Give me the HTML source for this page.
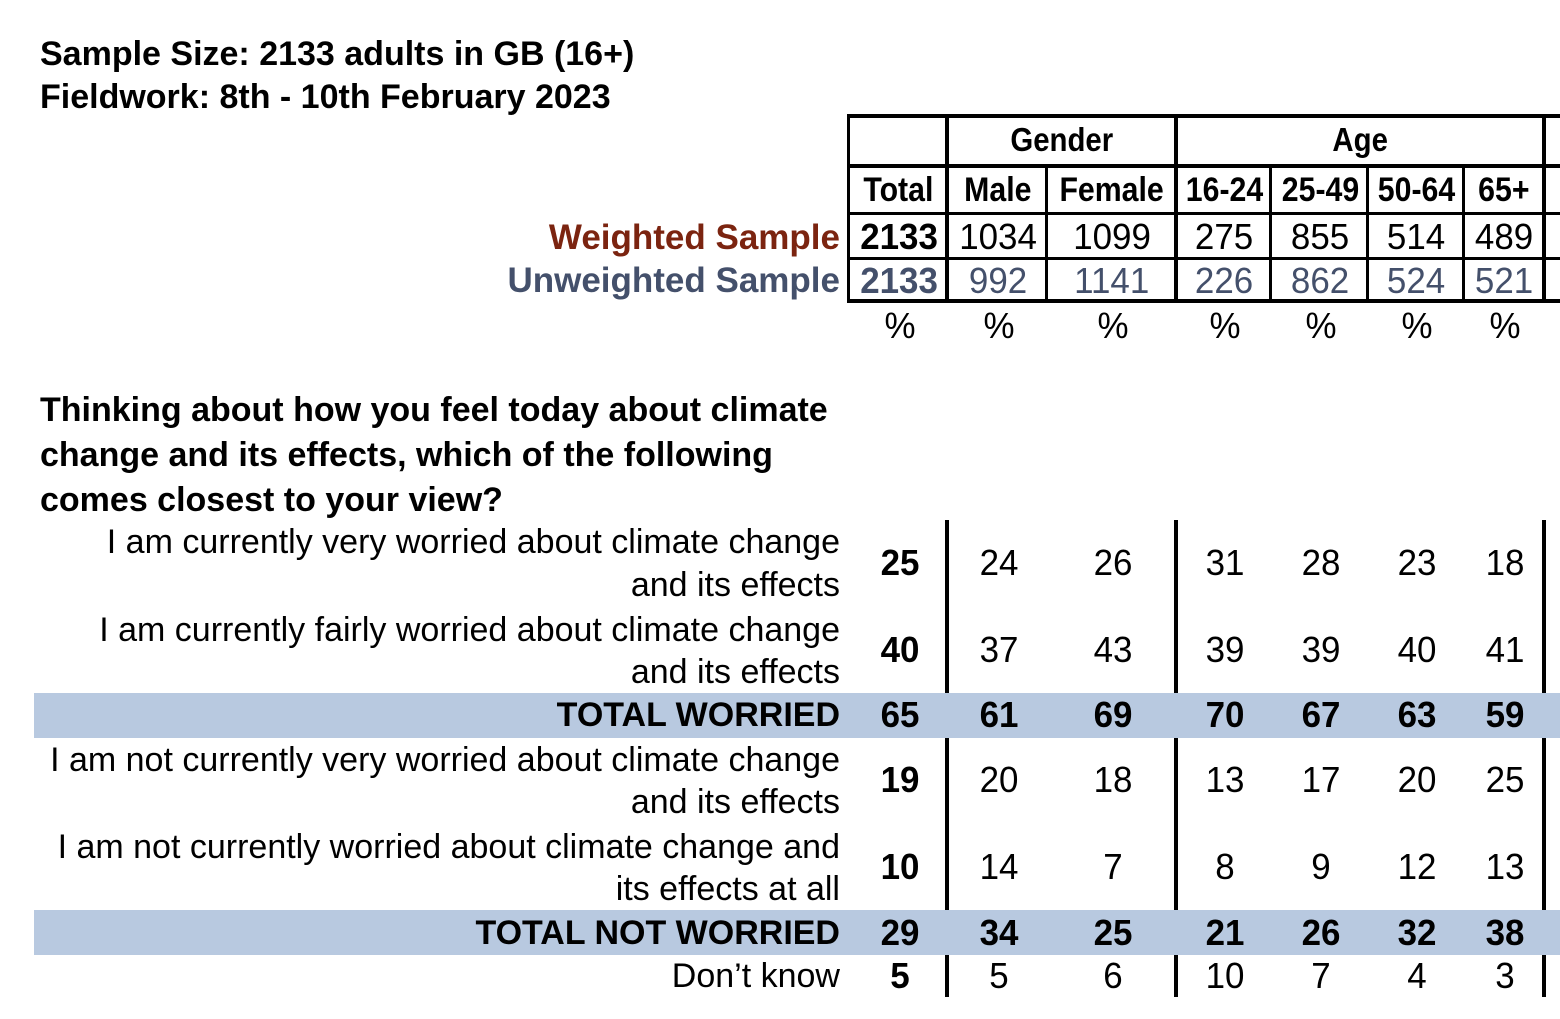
<!DOCTYPE html>
<html><head><meta charset="utf-8"><style>
body{margin:0;width:1560px;height:1019px;background:#fff;position:relative;overflow:hidden;font-family:"Liberation Sans",Arial,sans-serif;color:#000}
.a{position:absolute;white-space:nowrap}
.c{position:absolute;width:140px;text-align:center;white-space:nowrap;line-height:1}
.c span{display:inline-block;transform:scaleX(.97)}
.h span{transform:scaleX(.89)}
.l{position:absolute;right:720px;text-align:right;white-space:nowrap;font-size:34px;line-height:1}
.b{font-weight:bold}
.hl{position:absolute;background:#000}
.band{position:absolute;left:34px;width:1526px;height:45px;background:#b8c9e0}
</style></head><body>
<div class="a b" style="left:40px;top:33px;font-size:34px;line-height:43px">Sample Size: 2133 adults in GB (16+)<br>Fieldwork: 8th - 10th February 2023</div>

<div class="hl" style="left:847px;top:114px;width:713px;height:4px"></div>
<div class="hl" style="left:847px;top:164px;width:713px;height:4px"></div>
<div class="hl" style="left:847px;top:212px;width:713px;height:3px"></div>
<div class="hl" style="left:847px;top:257px;width:713px;height:3px"></div>
<div class="hl" style="left:847px;top:299px;width:713px;height:4px"></div>
<div class="hl" style="left:847px;top:114px;width:3px;height:189px"></div>
<div class="hl" style="left:945px;top:114px;width:4px;height:189px"></div>
<div class="hl" style="left:1045px;top:166px;width:3px;height:137px"></div>
<div class="hl" style="left:1174px;top:114px;width:4px;height:189px"></div>
<div class="hl" style="left:1269px;top:166px;width:3px;height:137px"></div>
<div class="hl" style="left:1366px;top:166px;width:3px;height:137px"></div>
<div class="hl" style="left:1462px;top:166px;width:3px;height:137px"></div>
<div class="hl" style="left:1542px;top:114px;width:4px;height:189px"></div>

<div class="c b h" style="left:992px;top:123px;font-size:33px"><span>Gender</span></div>
<div class="c b h" style="left:1290px;top:123px;font-size:33px"><span>Age</span></div>
<div class="c b h" style="left:828px;top:173px;font-size:34px"><span>Total</span></div>
<div class="c b h" style="left:928px;top:173px;font-size:34px"><span>Male</span></div>
<div class="c b h" style="left:1042px;top:173px;font-size:34px"><span>Female</span></div>
<div class="c b h" style="left:1154px;top:173px;font-size:34px"><span>16-24</span></div>
<div class="c b h" style="left:1250px;top:173px;font-size:34px"><span>25-49</span></div>
<div class="c b h" style="left:1346px;top:173px;font-size:34px"><span>50-64</span></div>
<div class="c b h" style="left:1434px;top:173px;font-size:34px"><span>65+</span></div>

<div class="l b" style="top:220px;color:#7b2410;font-size:35px">Weighted Sample</div>
<div class="l b" style="top:263px;color:#44506b;font-size:35px">Unweighted Sample</div>

<div class="c b" style="left:829px;top:219px;font-size:36px"><span>2133</span></div>
<div class="c" style="left:928px;top:219px;font-size:36px"><span>1034</span></div>
<div class="c" style="left:1042px;top:219px;font-size:36px"><span>1099</span></div>
<div class="c" style="left:1154px;top:219px;font-size:36px"><span>275</span></div>
<div class="c" style="left:1250px;top:219px;font-size:36px"><span>855</span></div>
<div class="c" style="left:1346px;top:219px;font-size:36px"><span>514</span></div>
<div class="c" style="left:1434px;top:219px;font-size:36px"><span>489</span></div>
<div style="color:#44506b">
<div class="c b" style="left:829px;top:263px;font-size:36px"><span>2133</span></div>
<div class="c" style="left:928px;top:263px;font-size:36px"><span>992</span></div>
<div class="c" style="left:1042px;top:263px;font-size:36px"><span>1141</span></div>
<div class="c" style="left:1154px;top:263px;font-size:36px"><span>226</span></div>
<div class="c" style="left:1250px;top:263px;font-size:36px"><span>862</span></div>
<div class="c" style="left:1346px;top:263px;font-size:36px"><span>524</span></div>
<div class="c" style="left:1434px;top:263px;font-size:36px"><span>521</span></div>
</div>
<div class="c" style="left:830px;top:308px;font-size:36px"><span>%</span></div>
<div class="c" style="left:929px;top:308px;font-size:36px"><span>%</span></div>
<div class="c" style="left:1043px;top:308px;font-size:36px"><span>%</span></div>
<div class="c" style="left:1155px;top:308px;font-size:36px"><span>%</span></div>
<div class="c" style="left:1251px;top:308px;font-size:36px"><span>%</span></div>
<div class="c" style="left:1347px;top:308px;font-size:36px"><span>%</span></div>
<div class="c" style="left:1435px;top:308px;font-size:36px"><span>%</span></div>

<div class="a b" style="left:40px;top:388px;font-size:34px;line-height:45px">Thinking about how you feel today about climate<br>change and its effects, which of the following<br>comes closest to your view?</div>

<div class="band" style="top:693px"></div>
<div class="band" style="top:910px"></div>
<div class="hl" style="left:945px;top:520px;width:4px;height:173px"></div>
<div class="hl" style="left:1174px;top:520px;width:4px;height:173px"></div>
<div class="hl" style="left:1542px;top:520px;width:4px;height:173px"></div>
<div class="hl" style="left:945px;top:738px;width:4px;height:172px"></div>
<div class="hl" style="left:1174px;top:738px;width:4px;height:172px"></div>
<div class="hl" style="left:1542px;top:738px;width:4px;height:172px"></div>
<div class="hl" style="left:945px;top:955px;width:4px;height:42px"></div>
<div class="hl" style="left:1174px;top:955px;width:4px;height:42px"></div>
<div class="hl" style="left:1542px;top:955px;width:4px;height:42px"></div>

<div class="l" style="top:525px">I am currently very worried about climate change</div>
<div class="l" style="top:568px">and its effects</div>
<div class="l" style="top:613px">I am currently fairly worried about climate change</div>
<div class="l" style="top:655px">and its effects</div>
<div class="l b" style="top:698px">TOTAL WORRIED</div>
<div class="l" style="top:743px">I am not currently very worried about climate change</div>
<div class="l" style="top:785px">and its effects</div>
<div class="l" style="top:830px">I am not currently worried about climate change and</div>
<div class="l" style="top:872px">its effects at all</div>
<div class="l b" style="top:916px">TOTAL NOT WORRIED</div>
<div class="l" style="top:959px">Don’t know</div>

<div style="font-size:36px">
<div class="c b" style="left:830px;top:545px"><span>25</span></div><div class="c" style="left:929px;top:545px"><span>24</span></div><div class="c" style="left:1043px;top:545px"><span>26</span></div><div class="c" style="left:1155px;top:545px"><span>31</span></div><div class="c" style="left:1251px;top:545px"><span>28</span></div><div class="c" style="left:1347px;top:545px"><span>23</span></div><div class="c" style="left:1435px;top:545px"><span>18</span></div>

<div class="c b" style="left:830px;top:632px"><span>40</span></div><div class="c" style="left:929px;top:632px"><span>37</span></div><div class="c" style="left:1043px;top:632px"><span>43</span></div><div class="c" style="left:1155px;top:632px"><span>39</span></div><div class="c" style="left:1251px;top:632px"><span>39</span></div><div class="c" style="left:1347px;top:632px"><span>40</span></div><div class="c" style="left:1435px;top:632px"><span>41</span></div>

<div class="c b" style="left:830px;top:697px"><span>65</span></div><div class="c b" style="left:929px;top:697px"><span>61</span></div><div class="c b" style="left:1043px;top:697px"><span>69</span></div><div class="c b" style="left:1155px;top:697px"><span>70</span></div><div class="c b" style="left:1251px;top:697px"><span>67</span></div><div class="c b" style="left:1347px;top:697px"><span>63</span></div><div class="c b" style="left:1435px;top:697px"><span>59</span></div>

<div class="c b" style="left:830px;top:762px"><span>19</span></div><div class="c" style="left:929px;top:762px"><span>20</span></div><div class="c" style="left:1043px;top:762px"><span>18</span></div><div class="c" style="left:1155px;top:762px"><span>13</span></div><div class="c" style="left:1251px;top:762px"><span>17</span></div><div class="c" style="left:1347px;top:762px"><span>20</span></div><div class="c" style="left:1435px;top:762px"><span>25</span></div>

<div class="c b" style="left:830px;top:849px"><span>10</span></div><div class="c" style="left:929px;top:849px"><span>14</span></div><div class="c" style="left:1043px;top:849px"><span>7</span></div><div class="c" style="left:1155px;top:849px"><span>8</span></div><div class="c" style="left:1251px;top:849px"><span>9</span></div><div class="c" style="left:1347px;top:849px"><span>12</span></div><div class="c" style="left:1435px;top:849px"><span>13</span></div>

<div class="c b" style="left:830px;top:915px"><span>29</span></div><div class="c b" style="left:929px;top:915px"><span>34</span></div><div class="c b" style="left:1043px;top:915px"><span>25</span></div><div class="c b" style="left:1155px;top:915px"><span>21</span></div><div class="c b" style="left:1251px;top:915px"><span>26</span></div><div class="c b" style="left:1347px;top:915px"><span>32</span></div><div class="c b" style="left:1435px;top:915px"><span>38</span></div>

<div class="c b" style="left:830px;top:958px"><span>5</span></div><div class="c" style="left:929px;top:958px"><span>5</span></div><div class="c" style="left:1043px;top:958px"><span>6</span></div><div class="c" style="left:1155px;top:958px"><span>10</span></div><div class="c" style="left:1251px;top:958px"><span>7</span></div><div class="c" style="left:1347px;top:958px"><span>4</span></div><div class="c" style="left:1435px;top:958px"><span>3</span></div>
</div>
</body></html>
